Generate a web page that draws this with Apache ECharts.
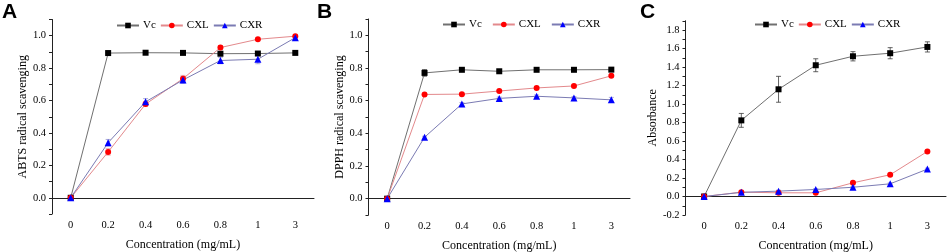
<!DOCTYPE html>
<html>
<head>
<meta charset="utf-8">
<script src="https://cdn.jsdelivr.net/npm/echarts@6/dist/echarts.min.js"></script>
<style>
html, body { margin: 0; padding: 0; background: #fff; }
#chart { width: 948px; height: 252px; }
</style>
</head>
<body>
<div id="chart"></div>
<script>
// concentrations (mg/mL)
const categories = ['0', '0.2', '0.4', '0.6', '0.8', '1', '3']

// A: ABTS radical scavenging
const abtsVc = [0, 0.893, 0.895, 0.894, 0.889, 0.890, 0.894]
const abtsCXL = [0, 0.283, 0.578, 0.735, 0.927, 0.978, 0.997]
const abtsCXR = [0, 0.340, 0.592, 0.727, 0.847, 0.855, 0.988]
const abtsVcErr = [0, 0.005, 0.004, 0.004, 0.004, 0.004, 0.004]
const abtsCXLErr = [0, 0.02, 0.015, 0.02, 0.012, 0.008, 0.006]
const abtsCXRErr = [0, 0.02, 0.02, 0.02, 0.02, 0.028, 0.01]

// B: DPPH radical scavenging
const dpphVc = [0, 0.770, 0.789, 0.780, 0.789, 0.789, 0.790]
const dpphCXL = [0, 0.638, 0.640, 0.659, 0.678, 0.690, 0.752]
const dpphCXR = [0, 0.376, 0.580, 0.614, 0.627, 0.617, 0.605]
const dpphVcErr = [0, 0.02, 0.006, 0.006, 0.005, 0.005, 0.005]
const dpphCXLErr = [0, 0.006, 0.006, 0.006, 0.006, 0.006, 0.006]
const dpphCXRErr = [0, 0.006, 0.008, 0.008, 0.008, 0.008, 0.015]

// C: reducing power (absorbance)
const absVc = [0, 0.823, 1.159, 1.419, 1.516, 1.549, 1.617]
const absCXL = [0, 0.047, 0.040, 0.040, 0.148, 0.235, 0.487]
const absCXR = [0, 0.045, 0.058, 0.076, 0.100, 0.137, 0.296]
const absVcErr = [0, 0.075, 0.14, 0.07, 0.05, 0.06, 0.055]
const absCXLErr = [0, 0.01, 0.01, 0.01, 0.01, 0.01, 0.01]
const absCXRErr = [0, 0.01, 0.01, 0.01, 0.01, 0.01, 0.01]

const font = "'Liberation Serif', 'Times New Roman', serif"
const myChart = echarts.init(document.getElementById('chart'))

const styles = {
  Vc: { line: '#707070', mark: '#000000', symbol: 'rect', size: 6, err: 'rgba(60,60,60,0.8)' },
  CXL: { line: '#e3898c', mark: '#ff0000', symbol: 'circle', size: 6, err: 'rgba(230,120,120,0.6)' },
  CXR: { line: '#7b7bb3', mark: '#0000ff', symbol: 'triangle', size: 7, err: 'rgba(120,120,190,0.6)' }
}

const grids = [
  { left: 52, top: 19.5, width: 262, height: 194.5 },
  { left: 368.5, top: 19, width: 261.5, height: 196 },
  { left: 685.5, top: 20.75, width: 260.5, height: 194.25 }
].map(g => Object.assign(g, { containLabel: false, outerBoundsMode: 'none' }))

function yLabel(v) {
  const k = Math.round(v * 10)
  return k % 2 === 0 ? (k / 10).toFixed(1) : ''
}

function xAxes(gi) {
  return [
    {
      type: 'category', gridIndex: gi, data: categories, boundaryGap: true,
      name: 'Concentration (mg/mL)', nameLocation: 'middle', nameGap: 25,
      nameTextStyle: { fontFamily: font, fontSize: 12, color: '#000' },
      axisLine: { lineStyle: { color: '#222', width: 1 } },
      axisTick: { alignWithLabel: true, length: 3, lineStyle: { color: '#222' } },
      axisLabel: { fontFamily: font, fontSize: 10.5, color: '#000', margin: 6 },
      splitLine: { show: false }
    },
    {
      type: 'category', gridIndex: gi, data: categories, boundaryGap: true,
      axisLine: { show: false },
      axisTick: { length: 2, lineStyle: { color: '#222' } },
      axisLabel: { show: false },
      splitLine: { show: false }
    }
  ]
}

function yAxis(gi, name, min, max, gap) {
  return {
    type: 'value', gridIndex: gi, min: min, max: max, interval: 0.1,
    name: name, nameLocation: 'middle', nameGap: gap,
    nameTextStyle: { fontFamily: font, fontSize: 12, color: '#000' },
    axisLine: { show: true, lineStyle: { color: '#222', width: 1 } },
    axisTick: { show: true, length: 3, lineStyle: { color: '#222' } },
    axisLabel: { fontFamily: font, fontSize: 10.5, color: '#000', margin: 6, formatter: yLabel },
    splitLine: { show: false }
  }
}

function lineSeries(name, values, gi) {
  const s = styles[name]
  return {
    name: name, type: 'line', xAxisIndex: gi * 2, yAxisIndex: gi, data: values,
    symbol: s.symbol, symbolSize: s.size, z: 3,
    lineStyle: { color: s.line, width: 1 },
    itemStyle: { color: s.mark },
    emphasis: { disabled: true }
  }
}

function errSeries(name, values, errs, gi) {
  const s = styles[name]
  return {
    name: name + ' err', type: 'custom', xAxisIndex: gi * 2, yAxisIndex: gi, silent: true, z: 2,
    data: values.map((v, i) => [i, v - errs[i], v + errs[i]]),
    renderItem: (params, api) => {
      const lo = api.coord([api.value(0), api.value(1)])
      const hi = api.coord([api.value(0), api.value(2)])
      if (lo[1] - hi[1] < 1) return
      const w = 2.5
      const st = { stroke: s.err, lineWidth: 1 }
      return {
        type: 'group',
        children: [
          { type: 'line', shape: { x1: lo[0], y1: lo[1], x2: hi[0], y2: hi[1] }, style: st },
          { type: 'line', shape: { x1: lo[0] - w, y1: lo[1], x2: lo[0] + w, y2: lo[1] }, style: st },
          { type: 'line', shape: { x1: hi[0] - w, y1: hi[1], x2: hi[0] + w, y2: hi[1] }, style: st }
        ]
      }
    }
  }
}

function legend(left, top, gap) {
  return {
    left: left, top: top, padding: 0, itemWidth: 22, itemHeight: 7, itemGap: gap,
    data: ['Vc', 'CXL', 'CXR'],
    textStyle: { fontFamily: font, fontSize: 11, color: '#000', padding: [0, 0, 0, -1] }
  }
}

function letter(text, x) {
  return {
    type: 'text', left: x, top: 2,
    style: { text: text, fontFamily: "'Liberation Sans', Arial, sans-serif", fontWeight: 'bold', fontSize: 21, fill: '#000' }
  }
}

const option = {
  animation: false,
  backgroundColor: '#fff',
  grid: grids,
  xAxis: [].concat(xAxes(0), xAxes(1), xAxes(2)),
  yAxis: [
    yAxis(0, 'ABTS radical scavenging', -0.1, 1.1, 22),
    yAxis(1, 'DPPH radical scavenging', -0.1, 1.1, 23),
    yAxis(2, 'Absorbance', -0.2, 1.9, 26)
  ],
  legend: [legend(116, 20, 4), legend(442, 19, 10), legend(754, 19, 4)],
  graphic: [letter('A', 2), letter('B', 317), letter('C', 640)],
  series: [
    lineSeries('Vc', abtsVc, 0), lineSeries('CXL', abtsCXL, 0), lineSeries('CXR', abtsCXR, 0),
    lineSeries('Vc', dpphVc, 1), lineSeries('CXL', dpphCXL, 1), lineSeries('CXR', dpphCXR, 1),
    lineSeries('Vc', absVc, 2), lineSeries('CXL', absCXL, 2), lineSeries('CXR', absCXR, 2),
    errSeries('Vc', abtsVc, abtsVcErr, 0), errSeries('CXL', abtsCXL, abtsCXLErr, 0), errSeries('CXR', abtsCXR, abtsCXRErr, 0),
    errSeries('Vc', dpphVc, dpphVcErr, 1), errSeries('CXL', dpphCXL, dpphCXLErr, 1), errSeries('CXR', dpphCXR, dpphCXRErr, 1),
    errSeries('Vc', absVc, absVcErr, 2), errSeries('CXL', absCXL, absCXLErr, 2), errSeries('CXR', absCXR, absCXRErr, 2)
  ]
}

myChart.setOption(option)
</script>
</body>
</html>
